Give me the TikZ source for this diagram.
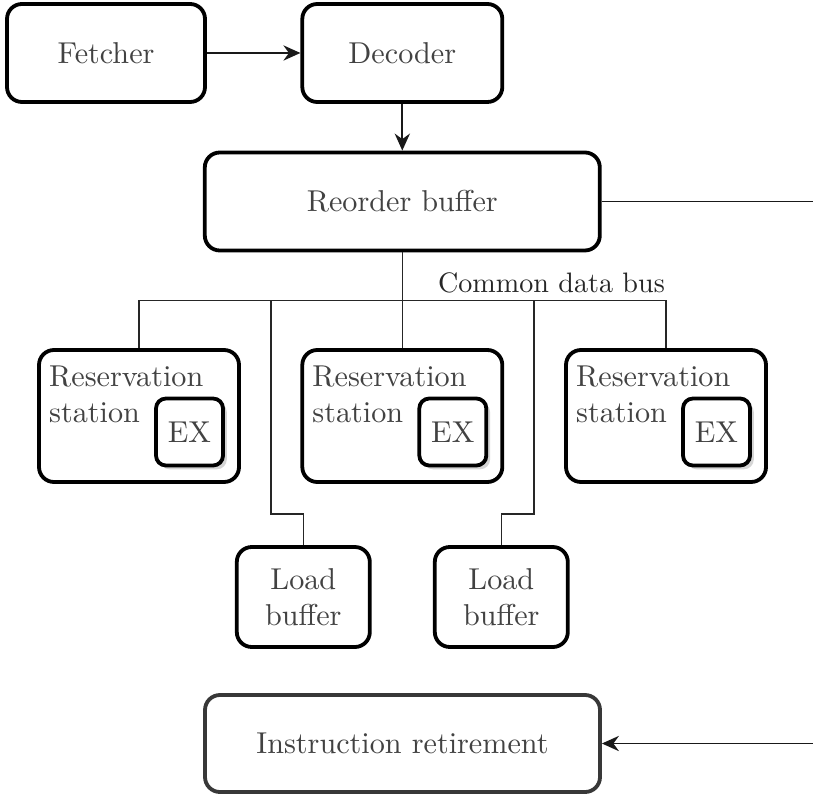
\documentclass[tikz,border=0pt]{standalone}
\usetikzlibrary{arrows.meta,shadows}
% one drawing unit (the coordinates below are in these units)
\newcommand\pxu{0.3413pt}
\definecolor{txt}{gray}{0.26}
\tikzset{
  box/.style={draw=black, line width=1.3pt, rounded corners=5.1pt, fill=white,
    text=txt, font=\fontsize{10.3}{12.2}\selectfont, align=center, inner sep=0pt},
  exbox/.style={box, rounded corners=3.4pt, minimum width=67*\pxu, minimum height=67*\pxu,
    drop shadow={shadow xshift=1.3pt, shadow yshift=-1.3pt, fill=black!32}},
  rstext/.style={text=txt, font=\fontsize{10.3}{12.2}\selectfont, align=left, inner sep=0pt},
  conn/.style={line width=0.65pt, draw=black!90},
  bus/.style={line width=0.5pt, draw=black!85},
  arrow/.style={conn, -{Stealth[length=5.8pt, width=5.2pt]}},
}
\begin{document}
\begin{tikzpicture}[x=\pxu, y=-\pxu]
\useasboundingbox (0,0) rectangle (813,793);

% front end
\node[box, minimum width=198*\pxu, minimum height=98*\pxu] (fetch) at (106,53) {Fetcher};
\node[box, minimum width=200*\pxu, minimum height=98*\pxu] (dec) at (402.3,53) {Decoder};
\node[box, minimum width=395*\pxu, minimum height=98*\pxu] (rob) at (402.3,201.5) {Reorder buffer};

% reservation stations with their execution units
\foreach \n/\x in {1/139, 2/402.3, 3/666} {
  \node[box, minimum width=200*\pxu, minimum height=132*\pxu] (rs\n) at (\x,416) {};
  \node[rstext, anchor=north west] (rs\n t) at ([shift={(11.5,17)}]rs\n.north west) {Reservation\\station};
  \node[exbox, anchor=south east] (ex\n) at ([shift={(-16,-16.5)}]rs\n.south east) {EX};
}

% load buffers
\node[box, minimum width=133*\pxu, minimum height=100*\pxu] (lb1) at (303.3,597) {Load\\buffer};
\node[box, minimum width=133*\pxu, minimum height=100*\pxu] (lb2) at (501.3,597) {Load\\buffer};

% retirement
\node[box, draw=black!78, minimum width=395*\pxu, minimum height=97*\pxu] (ir) at (402.5,743.5) {Instruction retirement};

% common data bus
\coordinate (busy) at (0,300.5);
\coordinate (tap1) at (271,300.5);
\coordinate (tap2) at (534,300.5);
\coordinate (knee) at (0,514);
\draw[bus] (rs1.north) -- (rs1.north |- busy) -- (rs3.north |- busy) -- (rs3.north);
\draw[bus] (rob.south) -- (rs2.north);
\draw[bus] (tap1) |- (lb1.north |- knee) -- (lb1.north);
\draw[bus] (tap2) |- (lb2.north |- knee) -- (lb2.north);
\node[anchor=base west, inner sep=0pt, text=black!85, font=\fontsize{9.6}{11}\selectfont] (cdb) at (437.5,293) {Common data bus};

% main flow
\coordinate (robout) at (813,201.5);
\coordinate (irin) at (813,743.5);
\draw[arrow] (fetch.east) -- (dec.west);
\draw[arrow] (dec.south) -- (rob.north);
\draw[conn] (rob.east) -- (robout);
\draw[arrow] (irin) -- (ir.east);
\end{tikzpicture}
\end{document}
